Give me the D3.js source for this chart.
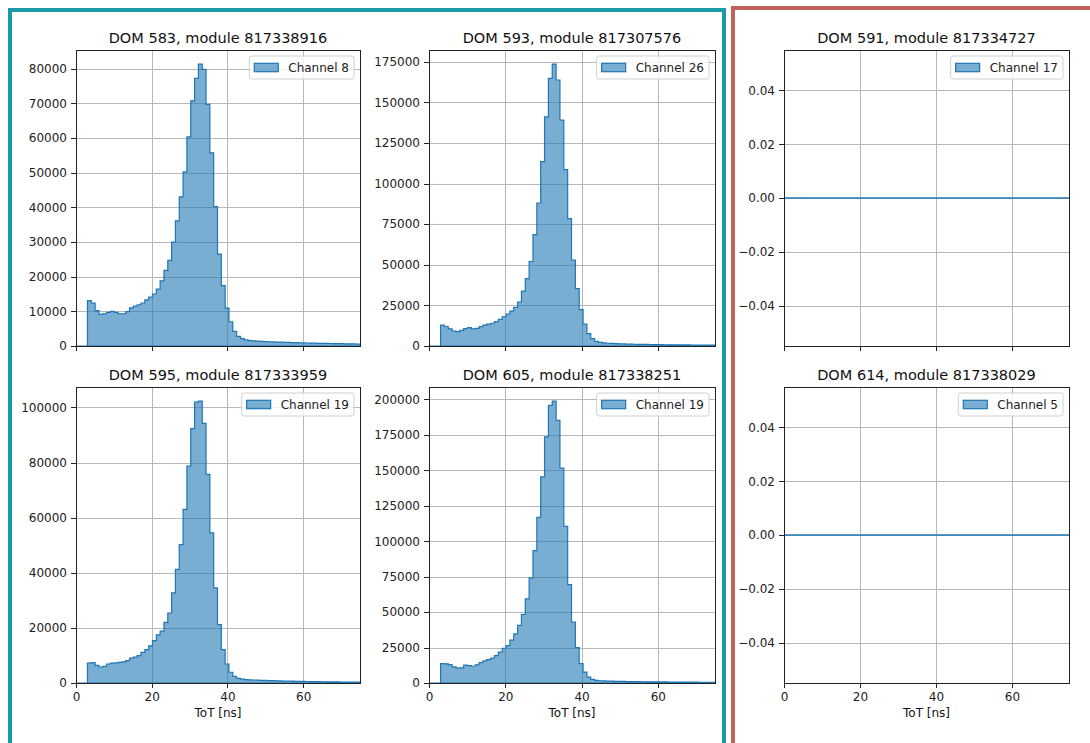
<!DOCTYPE html>
<html>
<head>
<meta charset="utf-8">
<script src="https://cdn.jsdelivr.net/npm/d3@7/dist/d3.min.js"></script>
<style>
body { margin: 0; background: #fff; }
svg { display: block; font-family: "DejaVu Sans", sans-serif; }
.tick text { font-family: "DejaVu Sans", sans-serif; font-size: 12px; fill: #222; }
.tick line { stroke: #222; }
.gridline { stroke: #b8b8b8; stroke-width: 1; shape-rendering: crispEdges; }
.spine { fill: none; stroke: #222; stroke-width: 1; shape-rendering: crispEdges; }
.title { font-size: 14.5px; fill: #111; text-anchor: middle; }
.xlabel { font-size: 12px; fill: #111; text-anchor: middle; }
</style>
</head>
<body>
<script>
//panel metadata
var doms = [583, 593, 595, 605, 591, 614];
var modules = [817338916, 817307576, 817333959, 817338251, 817334727, 817338029];
var channels = [8, 26, 19, 19, 17, 5];

//histogram bins: edge of bin i is i * binWidth (ns)
var binWidth = 1.01;

//counts per bin (ToT histograms)
var counts583 = [0, 0, 0,
    13100, 12400, 10200, 9100, 9300, 9700, 10000, 9700, 9300, 9300,
    9900, 11000, 11500, 11900, 12400, 13300, 14100, 15000, 16400, 18800,
    21800, 24700, 30000, 36100, 43000, 50200, 60300, 70700, 77200, 81300,
    79800, 69700, 55700, 40200, 26500, 17400, 10900,
    7000, 4200, 2800, 2100, 1750, 1550, 1450, 1380, 1320, 1270, 1220, 1180,
    1140, 1100, 1060, 1020, 990, 960, 930, 900, 870, 840, 810, 780,
    760, 740, 720, 700, 680, 660, 640, 620, 600, 580, 560, 540];
var counts593 = [0, 0, 0,
    12900, 12000, 10600, 9100, 8800, 9600, 10700, 11300, 10600, 10900,
    11900, 12900, 13500, 14000, 15000, 16400, 18000, 19700, 21500, 23800,
    27000, 33800, 41500, 52000, 68500, 88000, 113500, 141000, 164700, 173500,
    163700, 139000, 108600, 78400, 52800, 35300, 22400, 13500, 7600, 4500, 2800,
    2200, 1900, 1700, 1560, 1450, 1360, 1280, 1210, 1150, 1090, 1040, 990,
    950, 910, 870, 840, 810, 780, 750, 720, 700, 680, 660, 640,
    620, 600, 580, 560, 540, 520, 500, 490];
var counts595 = [0, 0, 0,
    7200, 7400, 6400, 5800, 6000, 6900, 7200, 7300, 7500, 7700,
    8100, 9000, 9400, 9900, 11100, 12100, 13500, 15400, 17500, 18800,
    22000, 25400, 32700, 41200, 50200, 63000, 78700, 92300, 101900, 102300,
    94200, 75700, 54500, 34500, 21200, 12100, 6900, 3900, 2400, 1700,
    1400, 1250, 1150, 1080, 1020, 970, 920, 870, 830, 790, 750, 710,
    680, 650, 620, 590, 560, 540, 520, 500, 480, 460, 440, 420,
    400, 385, 370, 355, 340, 325, 310, 300, 290];
var counts605 = [0, 0, 0,
    13700, 13500, 13000, 11400, 10600, 10700, 12600, 12300, 11800, 12800,
    14300, 15600, 16500, 17500, 19300, 21800, 24500, 26300, 30200, 34600,
    40600, 48300, 59300, 74100, 93300, 116800, 145400, 173500, 195800, 198800,
    185200, 151500, 110400, 69400, 42900, 24900, 13600, 7700, 4200, 2600, 1900,
    1600, 1450, 1350, 1270, 1200, 1140, 1090, 1040, 1000, 960, 920, 890,
    860, 830, 800, 775, 750, 725, 700, 680, 660, 640, 620, 600,
    580, 560, 540, 520, 500, 485, 470, 455];
var counts591 = []; //no hits
var counts614 = []; //no hits
var allCounts = [counts583, counts593, counts595, counts605, counts591, counts614];

//axis ticks
var xTicks = [0, 20, 40, 60];
var yTicks = [
    [0, 10000, 20000, 30000, 40000, 50000, 60000, 70000, 80000],
    [0, 25000, 50000, 75000, 100000, 125000, 150000, 175000],
    [0, 20000, 40000, 60000, 80000, 100000],
    [0, 25000, 50000, 75000, 100000, 125000, 150000, 175000, 200000],
    [-0.04, -0.02, 0, 0.02, 0.04],
    [-0.04, -0.02, 0, 0.02, 0.04]
];
var xLabel = "ToT [ns]";

//figure frame
var width = 1090, height = 743;
var svg = d3.select("body").append("svg")
    .attr("width", width)
    .attr("height", height);

//group frames
svg.append("rect")
    .attr("x", 10).attr("y", 10)
    .attr("width", 714).attr("height", 800)
    .attr("fill", "none").attr("stroke", "#1a99a6").attr("stroke-width", 4);
svg.append("rect")
    .attr("x", 733).attr("y", 8)
    .attr("width", 420).attr("height", 800)
    .attr("fill", "none").attr("stroke", "#bf625e").attr("stroke-width", 4);

//axes boxes
var boxes = [
    {x: 76, y: 50, w: 284, h: 296, xlab: false},
    {x: 429, y: 50, w: 286, h: 296, xlab: false},
    {x: 76, y: 387, w: 284, h: 296, xlab: true},
    {x: 429, y: 387, w: 286, h: 296, xlab: true},
    {x: 784, y: 50, w: 285, h: 296, xlab: false},
    {x: 784, y: 387, w: 285, h: 296, xlab: true}
];

var blue = "#1f77b4";

boxes.forEach(function(b, i){
    var data = allCounts[i];
    var g = svg.append("g").attr("transform", "translate(" + b.x + "," + b.y + ")");

    var x = d3.scaleLinear().domain([0, 75]).range([0, b.w]);
    var y;
    if (data.length) {
        y = d3.scaleLinear().domain([0, d3.max(data) * 1.05]).range([b.h, 0]);
    } else {
        y = d3.scaleLinear().domain([-0.055, 0.055]).range([b.h, 0]);
    }

    //clip
    var clipId = "clip" + i;
    g.append("clipPath").attr("id", clipId)
        .append("rect").attr("width", b.w).attr("height", b.h);

    //grid
    g.selectAll(".gx").data(xTicks).enter().append("line")
        .attr("class", "gridline")
        .attr("x1", function(d){ return Math.round(x(d)) + 0.5; })
        .attr("x2", function(d){ return Math.round(x(d)) + 0.5; })
        .attr("y1", 0).attr("y2", b.h);
    g.selectAll(".gy").data(yTicks[i]).enter().append("line")
        .attr("class", "gridline")
        .attr("y1", function(d){ return Math.round(y(d)) + 0.5; })
        .attr("y2", function(d){ return Math.round(y(d)) + 0.5; })
        .attr("x1", 0).attr("x2", b.w);

    //histogram as a filled step outline
    var plot = g.append("g").attr("clip-path", "url(#" + clipId + ")");
    if (data.length) {
        var pts = [[0, 0]];
        data.forEach(function(c, k){
            pts.push([k * binWidth, c]);
            pts.push([(k + 1) * binWidth, c]);
        });
        pts.push([data.length * binWidth, 0]);
        var line = d3.line()
            .x(function(d){ return x(d[0]); })
            .y(function(d){ return y(d[1]); });
        plot.append("path")
            .attr("d", line(pts) + "Z")
            .attr("fill", blue).attr("fill-opacity", 0.6)
            .attr("stroke", blue).attr("stroke-width", 1.2)
            .attr("stroke-linejoin", "miter");
    } else {
        plot.append("line")
            .attr("x1", x(0)).attr("x2", x(75))
            .attr("y1", y(0)).attr("y2", y(0))
            .attr("stroke", blue).attr("stroke-width", 1.5);
    }

    //axes
    var fmt = data.length ? d3.format("d") : d3.format(".2f");
    var yAxis = d3.axisLeft(y).tickValues(yTicks[i]).tickSize(5).tickPadding(4).tickFormat(fmt);
    var ya = g.append("g").call(yAxis);
    ya.select(".domain").remove();
    var xAxis = d3.axisBottom(x).tickValues(xTicks).tickSize(5).tickPadding(4)
        .tickFormat(b.xlab ? d3.format("d") : function(){ return ""; });
    var xa = g.append("g").attr("transform", "translate(0," + b.h + ")").call(xAxis);
    xa.select(".domain").remove();
    g.selectAll(".tick line").attr("shape-rendering", "crispEdges");

    //spines
    g.append("rect").attr("class", "spine")
        .attr("x", 0.5).attr("y", 0.5).attr("width", b.w).attr("height", b.h);

    //title
    g.append("text").attr("class", "title")
        .attr("x", b.w / 2).attr("y", -7)
        .text("DOM " + doms[i] + ", module " + modules[i]);

    if (b.xlab) {
        g.append("text").attr("class", "xlabel")
            .attr("x", b.w / 2).attr("y", b.h + 34)
            .text(xLabel);
    }

    //legend
    var leg = g.append("g");
    var frame = leg.append("rect")
        .attr("fill", "#fff").attr("fill-opacity", 0.8)
        .attr("stroke", "#d0d0d0").attr("stroke-width", 1)
        .attr("rx", 2.5).attr("ry", 2.5);
    var lt = leg.append("text")
        .attr("font-size", 12).attr("fill", "#222")
        .text("Channel " + channels[i]);
    var tw = lt.node().getComputedTextLength();
    var lw = 5 + 24 + 10 + tw + 5, lh = 23;
    var lx = b.w - 6 - lw, ly = 6;
    frame.attr("x", lx).attr("y", ly).attr("width", lw).attr("height", lh);
    leg.append("rect")
        .attr("x", lx + 5).attr("y", ly + lh / 2 - 4.2)
        .attr("width", 24).attr("height", 8.4)
        .attr("fill", blue).attr("fill-opacity", 0.6)
        .attr("stroke", blue).attr("stroke-width", 1.2);
    lt.attr("x", lx + 39).attr("y", ly + lh / 2 + 4.3);
});
</script>
</body>
</html>
